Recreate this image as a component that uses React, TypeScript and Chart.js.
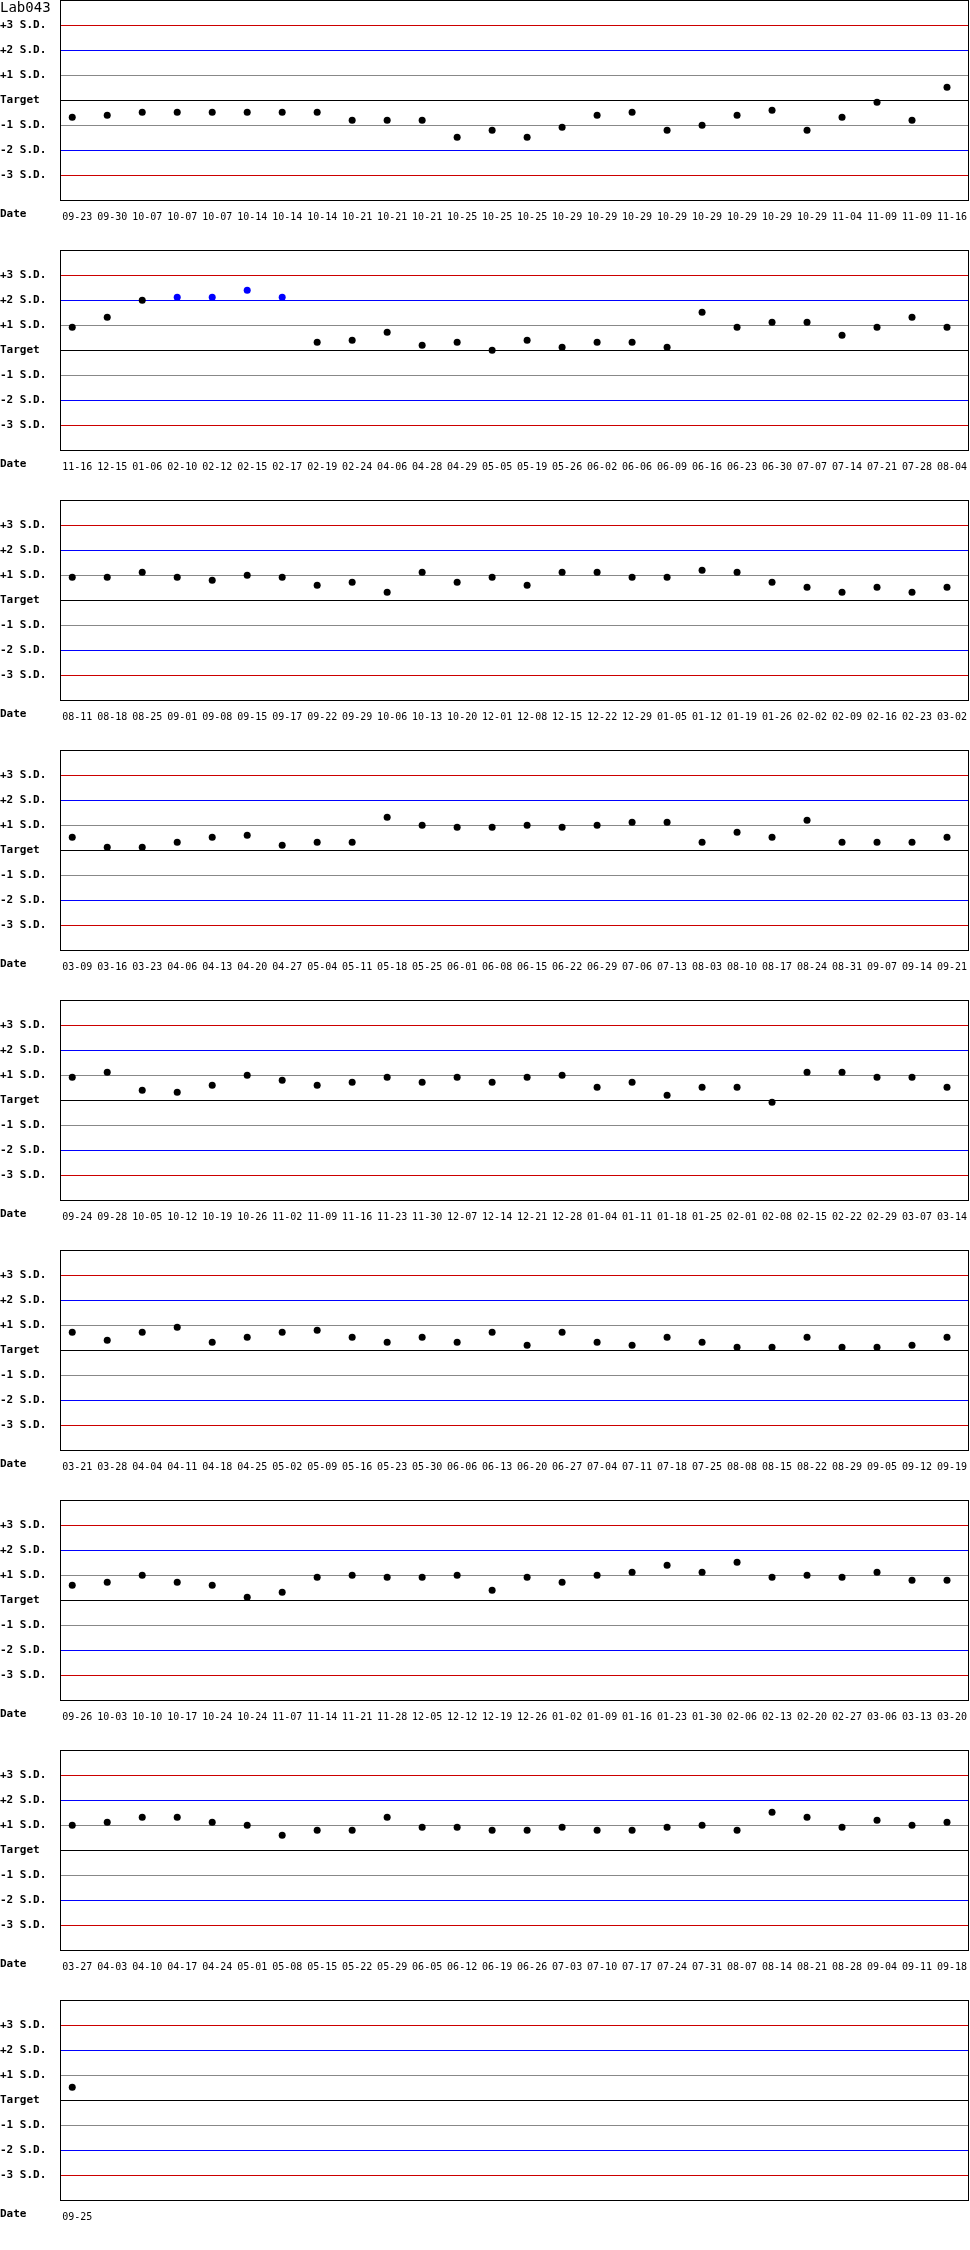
import { useEffect, useRef } from 'react';
import { Chart, registerables } from 'chart.js';

Chart.register(...registerables);

const TITLE = 'Lab043';
const PER_PANEL = 26;
const SD_TICKS = [-3, -2, -1, 0, 1, 2, 3];
const SD_LABELS = ['-3 S.D.', '-2 S.D.', '-1 S.D.', 'Target', '+1 S.D.', '+2 S.D.', '+3 S.D.'];

const DATES = [
  '09-23', '09-30', '10-07', '10-07', '10-07', '10-14', '10-14', '10-14', '10-21', '10-21', '10-21', '10-25', '10-25',
  '10-25', '10-29', '10-29', '10-29', '10-29', '10-29', '10-29', '10-29', '10-29', '11-04', '11-09', '11-09', '11-16',
  '11-16', '12-15', '01-06', '02-10', '02-12', '02-15', '02-17', '02-19', '02-24', '04-06', '04-28', '04-29', '05-05',
  '05-19', '05-26', '06-02', '06-06', '06-09', '06-16', '06-23', '06-30', '07-07', '07-14', '07-21', '07-28', '08-04',
  '08-11', '08-18', '08-25', '09-01', '09-08', '09-15', '09-17', '09-22', '09-29', '10-06', '10-13', '10-20', '12-01',
  '12-08', '12-15', '12-22', '12-29', '01-05', '01-12', '01-19', '01-26', '02-02', '02-09', '02-16', '02-23', '03-02',
  '03-09', '03-16', '03-23', '04-06', '04-13', '04-20', '04-27', '05-04', '05-11', '05-18', '05-25', '06-01', '06-08',
  '06-15', '06-22', '06-29', '07-06', '07-13', '08-03', '08-10', '08-17', '08-24', '08-31', '09-07', '09-14', '09-21',
  '09-24', '09-28', '10-05', '10-12', '10-19', '10-26', '11-02', '11-09', '11-16', '11-23', '11-30', '12-07', '12-14',
  '12-21', '12-28', '01-04', '01-11', '01-18', '01-25', '02-01', '02-08', '02-15', '02-22', '02-29', '03-07', '03-14',
  '03-21', '03-28', '04-04', '04-11', '04-18', '04-25', '05-02', '05-09', '05-16', '05-23', '05-30', '06-06', '06-13',
  '06-20', '06-27', '07-04', '07-11', '07-18', '07-25', '08-08', '08-15', '08-22', '08-29', '09-05', '09-12', '09-19',
  '09-26', '10-03', '10-10', '10-17', '10-24', '10-24', '11-07', '11-14', '11-21', '11-28', '12-05', '12-12', '12-19',
  '12-26', '01-02', '01-09', '01-16', '01-23', '01-30', '02-06', '02-13', '02-20', '02-27', '03-06', '03-13', '03-20',
  '03-27', '04-03', '04-10', '04-17', '04-24', '05-01', '05-08', '05-15', '05-22', '05-29', '06-05', '06-12', '06-19',
  '06-26', '07-03', '07-10', '07-17', '07-24', '07-31', '08-07', '08-14', '08-21', '08-28', '09-04', '09-11', '09-18',
  '09-25'
];

// deviation from target, in S.D. units
const SD_VALUES = [
  -0.69, -0.61, -0.49, -0.49, -0.49, -0.49, -0.49, -0.49, -0.81, -0.81, -0.81, -1.49, -1.21,
  -1.49, -1.09, -0.61, -0.49, -1.21, -1.01, -0.61, -0.41, -1.21, -0.69, -0.09, -0.81, 0.51,
  0.91, 1.31, 1.99, 2.11, 2.11, 2.39, 2.11, 0.31, 0.39, 0.71, 0.19, 0.31, -0.01,
  0.39, 0.11, 0.31, 0.31, 0.11, 1.51, 0.91, 1.11, 1.11, 0.59, 0.91, 1.31, 0.91,
  0.91, 0.91, 1.11, 0.91, 0.79, 0.99, 0.91, 0.59, 0.71, 0.31, 1.11, 0.71, 0.91,
  0.59, 1.11, 1.11, 0.91, 0.91, 1.19, 1.11, 0.71, 0.51, 0.31, 0.51, 0.31, 0.51,
  0.51, 0.11, 0.11, 0.31, 0.51, 0.59, 0.19, 0.31, 0.31, 1.31, 0.99, 0.91, 0.91,
  0.99, 0.91, 0.99, 1.11, 1.11, 0.31, 0.71, 0.51, 1.19, 0.31, 0.31, 0.31, 0.51,
  0.91, 1.11, 0.39, 0.31, 0.59, 0.99, 0.79, 0.59, 0.71, 0.91, 0.71, 0.91, 0.71,
  0.91, 0.99, 0.51, 0.71, 0.19, 0.51, 0.51, -0.09, 1.11, 1.11, 0.91, 0.91, 0.51,
  0.71, 0.39, 0.71, 0.91, 0.31, 0.51, 0.71, 0.79, 0.51, 0.31, 0.51, 0.31, 0.71,
  0.19, 0.71, 0.31, 0.19, 0.51, 0.31, 0.11, 0.11, 0.51, 0.11, 0.11, 0.19, 0.51,
  0.59, 0.71, 0.99, 0.71, 0.59, 0.11, 0.31, 0.91, 0.99, 0.91, 0.91, 0.99, 0.39,
  0.91, 0.71, 0.99, 1.11, 1.39, 1.11, 1.51, 0.91, 0.99, 0.91, 1.11, 0.79, 0.79,
  0.99, 1.11, 1.31, 1.31, 1.11, 0.99, 0.59, 0.79, 0.79, 1.31, 0.91, 0.91, 0.79,
  0.79, 0.91, 0.79, 0.79, 0.91, 0.99, 0.79, 1.51, 1.31, 0.91, 1.19, 0.99, 1.11,
  0.51
];

const C = {
  black: '#000000',
  red: '#cc0000',
  blue: '#0000ff',
  gray: '#888888'
};

const MONO = '"DejaVu Sans Mono", "Liberation Mono", monospace';
const X_MIN = -0.35;
const X_MAX = 25.6;
const LABEL_SHIFT = 5 / 35;

const lineColor = (v: number) => {
  const a = Math.abs(v);
  if (a === 3) return C.red;
  if (a === 2) return C.blue;
  if (a === 1) return C.gray;
  return C.black;
};

const framePlugin = {
  id: 'frame',
  beforeDatasetsDraw(chart: any) {
    const { ctx, chartArea: a } = chart;
    ctx.save();
    ctx.strokeStyle = C.black;
    ctx.lineWidth = 1;
    ctx.strokeRect(a.left + 0.5, a.top + 0.5, a.right - a.left, a.bottom - a.top);
    ctx.restore();
  }
};

function Panel({ dates, values, top }: { dates: string[]; values: number[]; top: number }) {
  const canvasRef = useRef<HTMLCanvasElement | null>(null);

  useEffect(() => {
    if (!canvasRef.current) return;
    const chart = new Chart(canvasRef.current, {
      type: 'scatter',
      data: {
        datasets: [
          {
            data: values.map((v, i) => ({ x: i, y: v })),
            pointBackgroundColor: values.map((v) => (v > 2 ? C.blue : C.black)),
            pointRadius: 3.5,
            pointBorderWidth: 0
          }
        ]
      },
      plugins: [framePlugin],
      options: {
        responsive: false,
        animation: false,
        events: [],
        layout: { autoPadding: false, padding: { left: 0, top: 0, right: 2, bottom: 0 } },
        plugins: { legend: { display: false }, tooltip: { enabled: false } },
        scales: {
          x: { type: 'linear', min: X_MIN, max: X_MAX, display: false },
          xl: {
            type: 'linear',
            axis: 'x',
            position: 'bottom',
            min: X_MIN - LABEL_SHIFT,
            max: X_MAX - LABEL_SHIFT,
            grid: { display: false, drawTicks: false },
            border: { display: false },
            afterBuildTicks: (s: any) => {
              s.ticks = dates.map((_, i) => ({ value: i }));
            },
            afterFit: (s: any) => {
              s.height = 50;
              s.paddingLeft = 0;
              s.paddingRight = 0;
            },
            ticks: {
              autoSkip: false,
              maxRotation: 0,
              padding: 11,
              color: C.black,
              font: { family: MONO, size: 10 },
              callback: (_v: any, i: number) => dates[i]
            }
          },
          y: {
            type: 'linear',
            min: -4,
            max: 4,
            border: { display: false },
            grid: {
              drawTicks: false,
              color: (c: any) => lineColor(c.tick.value)
            },
            afterBuildTicks: (s: any) => {
              s.ticks = SD_TICKS.map((v) => ({ value: v }));
            },
            afterFit: (s: any) => {
              s.width = 60;
              s.paddingTop = 0;
              s.paddingBottom = 0;
            },
            ticks: {
              crossAlign: 'far',
              padding: 0,
              color: C.black,
              font: { family: MONO, size: 11, weight: 'bold' },
              callback: (v: any) => SD_LABELS[SD_TICKS.indexOf(v)]
            }
          }
        }
      } as any
    });
    return () => chart.destroy();
  }, [dates, values]);

  return (
    <div style={{ position: 'absolute', left: 0, top, width: 970, height: 250 }}>
      <canvas ref={canvasRef} width={970} height={250} style={{ display: 'block' }} />
      <span
        style={{
          position: 'absolute',
          left: 0,
          top: 208,
          fontFamily: MONO,
          fontSize: 11,
          fontWeight: 'bold',
          lineHeight: '11px'
        }}
      >
        Date
      </span>
    </div>
  );
}

const PANELS = Array.from({ length: Math.ceil(DATES.length / PER_PANEL) }, (_, p) => ({
  dates: DATES.slice(p * PER_PANEL, (p + 1) * PER_PANEL),
  values: SD_VALUES.slice(p * PER_PANEL, (p + 1) * PER_PANEL)
}));

export default function App() {
  return (
    <div style={{ position: 'absolute', left: 0, top: 0, width: 970, height: 2250, background: '#fff' }}>
      {PANELS.map((p, i) => (
        <Panel key={i} dates={p.dates} values={p.values} top={i * 250} />
      ))}
      <span
        style={{
          position: 'absolute',
          left: 0,
          top: 0,
          fontFamily: MONO,
          fontSize: 14,
          lineHeight: '14px'
        }}
      >
        {TITLE}
      </span>
    </div>
  );
}
